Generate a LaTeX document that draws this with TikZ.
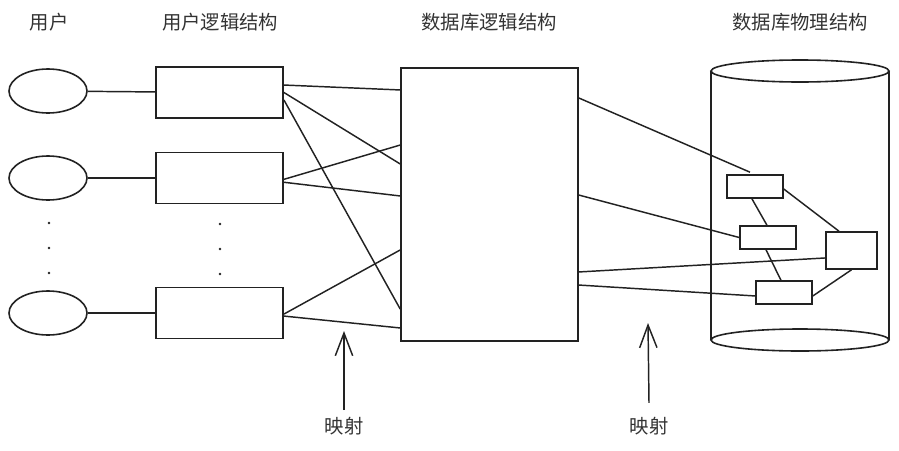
\documentclass[tikz,border=0pt]{standalone}
\usepackage{fontspec}
\setmainfont{Noto Sans CJK SC}
\usepackage{xcolor}
\usepackage{tikz}
\usetikzlibrary{
  shapes.geometric,
  arrows.meta,
  positioning
}
\definecolor{LineGray}{RGB}{34, 34, 34}
\definecolor{TextGray}{RGB}{51, 51, 51}
\tikzset{
    title/.style={text=TextGray, font=\fontsize{14.5}{17}\selectfont, inner sep=2pt},
    userbox/.style={ellipse, draw=LineGray, line width=1.2pt, minimum width=58.5pt, minimum height=33pt, inner sep=0pt},
    ulogbox/.style={rectangle, draw=LineGray, line width=1.4pt, minimum width=95.25pt, minimum height=38.25pt, inner sep=0pt},
    dbbox/.style={rectangle, draw=LineGray, line width=1.2pt, minimum width=132.75pt, minimum height=204.75pt, inner sep=0pt},
    recbox/.style={rectangle, draw=LineGray, line width=1.2pt, minimum width=42pt, minimum height=17.25pt, inner sep=0pt},
    link/.style={draw=LineGray, line width=1.1pt},
    maparrow/.style={draw=LineGray, line width=1.1pt, -{Straight Barb[length=17pt, width=13pt, line width=1.1pt]}}
}

\begin{document}
\begin{tikzpicture}[x=0.75pt, y=-0.75pt]
    \useasboundingbox (0,0) rectangle (899,450);

    % titles
    \node[title] (tuser) at (49,22) {用户};
    \node[title] (tulog) at (220,22) {用户逻辑结构};
    \node[title] (tdblog) at (489,22) {数据库逻辑结构};
    \node[title] (tdbphy) at (800,22) {数据库物理结构};

    % users and their logical structures
    \node[userbox] (user1) at (48,91) {};
    \node[userbox] (user2) at (48,178) {};
    \node[userbox] (user3) at (48,313) {};
    \node[ulogbox] (ulog1) at (219.5,92.5) {};
    \node[ulogbox] (ulog2) at (219.5,178) {};
    \node[ulogbox] (ulog3) at (219.5,313) {};
    \draw[link] (user1) -- (ulog1);
    \draw[link] (user2) -- (ulog2);
    \draw[link] (user3) -- (ulog3);
    \foreach \y in {223,248,273} {
        \fill[LineGray] (49,\y) circle (1.4);
        \fill[LineGray] (220,\y+1) circle (1.4);
    }

    % database logical structure
    \node[dbbox] (dblog) at (489.5,204.5) {};
    \draw[link] ([yshift=5.6pt]ulog1.east) -- ([yshift=85.9pt]dblog.west);
    \draw[link] (ulog1.east) -- ([yshift=30.4pt]dblog.west);
    \draw[link] ([yshift=-5.6pt]ulog1.east) -- ([yshift=-78.4pt]dblog.west);
    \draw[link] ([yshift=-1pt]ulog2.east) -- ([yshift=44.6pt]dblog.west);
    \draw[link] ([yshift=-3.2pt]ulog2.east) -- ([yshift=6.4pt]dblog.west);
    \draw[link] ([yshift=-0.8pt]ulog3.east) -- ([yshift=-34.1pt]dblog.west);
    \draw[link] ([yshift=-2.3pt]ulog3.east) -- ([yshift=-92.6pt]dblog.west);

    % database physical structure
    \draw[LineGray, line width=1.2pt] (711,71) -- (711,340);
    \draw[LineGray, line width=1.2pt] (889,71) -- (889,340);
    \draw[LineGray, line width=1.2pt, fill=white] (800,71) ellipse [x radius=89, y radius=11];
    \draw[LineGray, line width=1.2pt, fill=white] (800,340) ellipse [x radius=89, y radius=11];
    \node[recbox] (rec1) at (755,186.5) {};
    \node[recbox] (rec2) at (768,237.5) {};
    \node[recbox] (rec3) at (784,292.5) {};
    \node[recbox, minimum width=38.25pt, minimum height=27.75pt] (rec4) at (851.5,250.5) {};
    \draw[link] ([xshift=-2.3pt]rec1.south) -- ([xshift=-0.8pt]rec2.north);
    \draw[link] ([xshift=-1.5pt]rec2.south) -- ([xshift=-2.3pt]rec3.north);
    \draw[link] ([yshift=-1.9pt]rec1.east) -- ([xshift=-9.4pt]rec4.north);
    \draw[link] ([yshift=-2.6pt]rec3.east) -- (rec4.south);
    \draw[link] ([yshift=79.9pt]dblog.east) -- ([xshift=-3.75pt, yshift=1.5pt]rec1.north);
    \draw[link] ([yshift=7.1pt]dblog.east) -- (rec2.west);
    \draw[link] ([yshift=-50.6pt]dblog.east) -- ([yshift=-5.6pt]rec4.west);
    \draw[link] ([yshift=-60.4pt]dblog.east) -- ([yshift=-2.6pt]rec3.west);

    % mappings
    \node[title] (map1) at (344,426) {映射};
    \node[title] (map2) at (649,426) {映射};
    \coordinate (map1tip) at (344,331);
    \coordinate (map2tip) at (648,323);
    \draw[maparrow] ([yshift=3pt]map1.north) -- (map1tip);
    \draw[maparrow] ([yshift=8.5pt]map2.north) -- (map2tip);
\end{tikzpicture}
\end{document}
